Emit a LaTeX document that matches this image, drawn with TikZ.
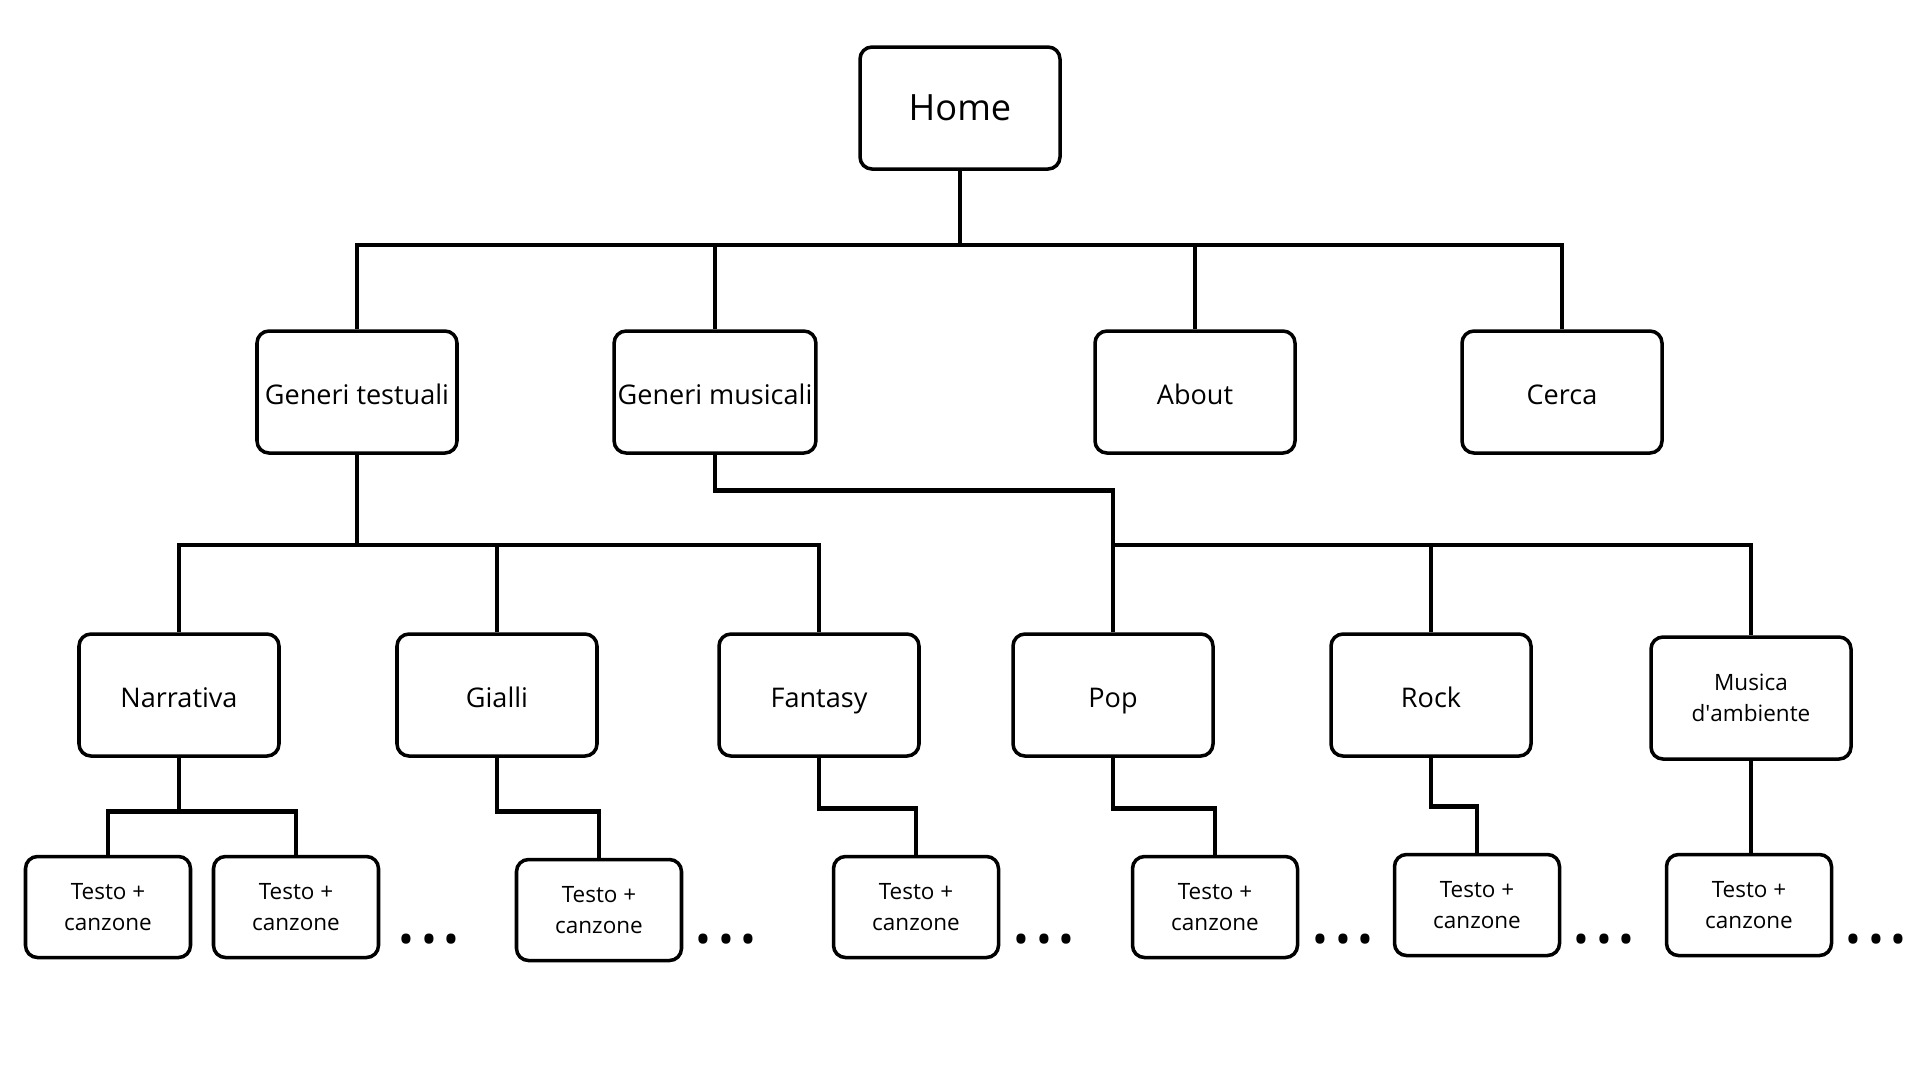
\documentclass[tikz,border=0pt]{standalone}
\usepackage{fontspec}
\setmainfont{Open Sans}
\usetikzlibrary{positioning}

\tikzset{
  page/.style={x=0.1mm, y=-0.1mm},
  box/.style={draw, line width=1pt, rounded corners=1.2mm, fill=white, align=center,
    minimum width=20mm, minimum height=12.2mm, inner sep=1pt,
    font=\fontsize{7.7}{9.6}\selectfont},
  single/.style={box, text height=1.7ex, text depth=0.4ex},
  leaf/.style={box, minimum width=16.5mm, minimum height=10.1mm,
    font=\fontsize{6.4}{8.7}\selectfont},
  more/.style={inner sep=0pt, font=\fontsize{12}{12}\selectfont},
  wire/.style={line width=1.3pt}
}

\begin{document}
\begin{tikzpicture}[page]
\useasboundingbox[fill=white] (0,0) rectangle (1920,1080);

%% top and sections
\node[single, font=\fontsize{10.3}{12}\selectfont](home) at (960,108){Home};
\node[single](gtest) at (357,392){Generi testuali};
\node[single](gmus) at (715,392){Generi musicali};
\node[single](about) at (1195,392){About};
\node[single](cerca) at (1562,392){Cerca};

\coordinate (topbus) at (960,245);
\draw[wire] (home.south) -- (topbus);
\draw[wire] (gtest.north) |- (topbus) -| (cerca.north);
\draw[wire] (gmus.north) -- (gmus.north |- topbus);
\draw[wire] (about.north) -- (about.north |- topbus);

%% genres
\node[single](narr) at (179,695){Narrativa};
\node[single](gial) at (497,695){Gialli};
\node[single](fant) at (819,695){Fantasy};
\node[single](pop) at (1113,695){Pop};
\node[single](rock) at (1431,695){Rock};
\node[box, font=\fontsize{6.4}{8.7}\selectfont](musa) at (1751,698){Musica\\d\textquotesingle ambiente};

\coordinate (textbus) at (357,545);
\draw[wire] (gtest.south) -- (textbus);
\draw[wire] (narr.north) |- (textbus) -| (fant.north);
\draw[wire] (gial.north) -- (gial.north |- textbus);

\coordinate (musbus) at (1113,545);
\draw[wire] (gmus.south) -- ++(0,36) -| (musbus) -- (pop.north);
\draw[wire] (musbus) -| (musa.north);
\draw[wire] (rock.north) -- (rock.north |- musbus);

%% pages
\node[leaf](t1) at (108,907){Testo +\\canzone};
\node[leaf](t2) at (296,907){Testo +\\canzone};
\node[leaf](t3) at (599,910){Testo +\\canzone};
\node[leaf](t4) at (916,907){Testo +\\canzone};
\node[leaf](t5) at (1215,907){Testo +\\canzone};
\node[leaf](t6) at (1477,905){Testo +\\canzone};
\node[leaf](t7) at (1749,905){Testo +\\canzone};

\draw[wire] (narr.south) -- ++(0,54) coordinate (narrbus);
\draw[wire] (t1.north) |- (narrbus) -| (t2.north);
\draw[wire] (gial.south) -- ++(0,54) -| (t3.north);
\draw[wire] (fant.south) -- ++(0,51) -| (t4.north);
\draw[wire] (pop.south) -- ++(0,51) -| (t5.north);
\draw[wire] (rock.south) -- ++(0,49) -| (t6.north);
\draw[wire] (musa.south) -- (musa.south |- t7.north);

% more pages
\node[more](dots1) at (429,944){•\hspace{2pt}•\hspace{2pt}•};
\node[more](dots2) at (726,944){•\hspace{2pt}•\hspace{2pt}•};
\node[more](dots3) at (1044,944){•\hspace{2pt}•\hspace{2pt}•};
\node[more](dots4) at (1343,944){•\hspace{2pt}•\hspace{2pt}•};
\node[more](dots5) at (1604,944){•\hspace{2pt}•\hspace{2pt}•};
\node[more](dots6) at (1876,944){•\hspace{2pt}•\hspace{2pt}•};

\end{tikzpicture}
\end{document}
